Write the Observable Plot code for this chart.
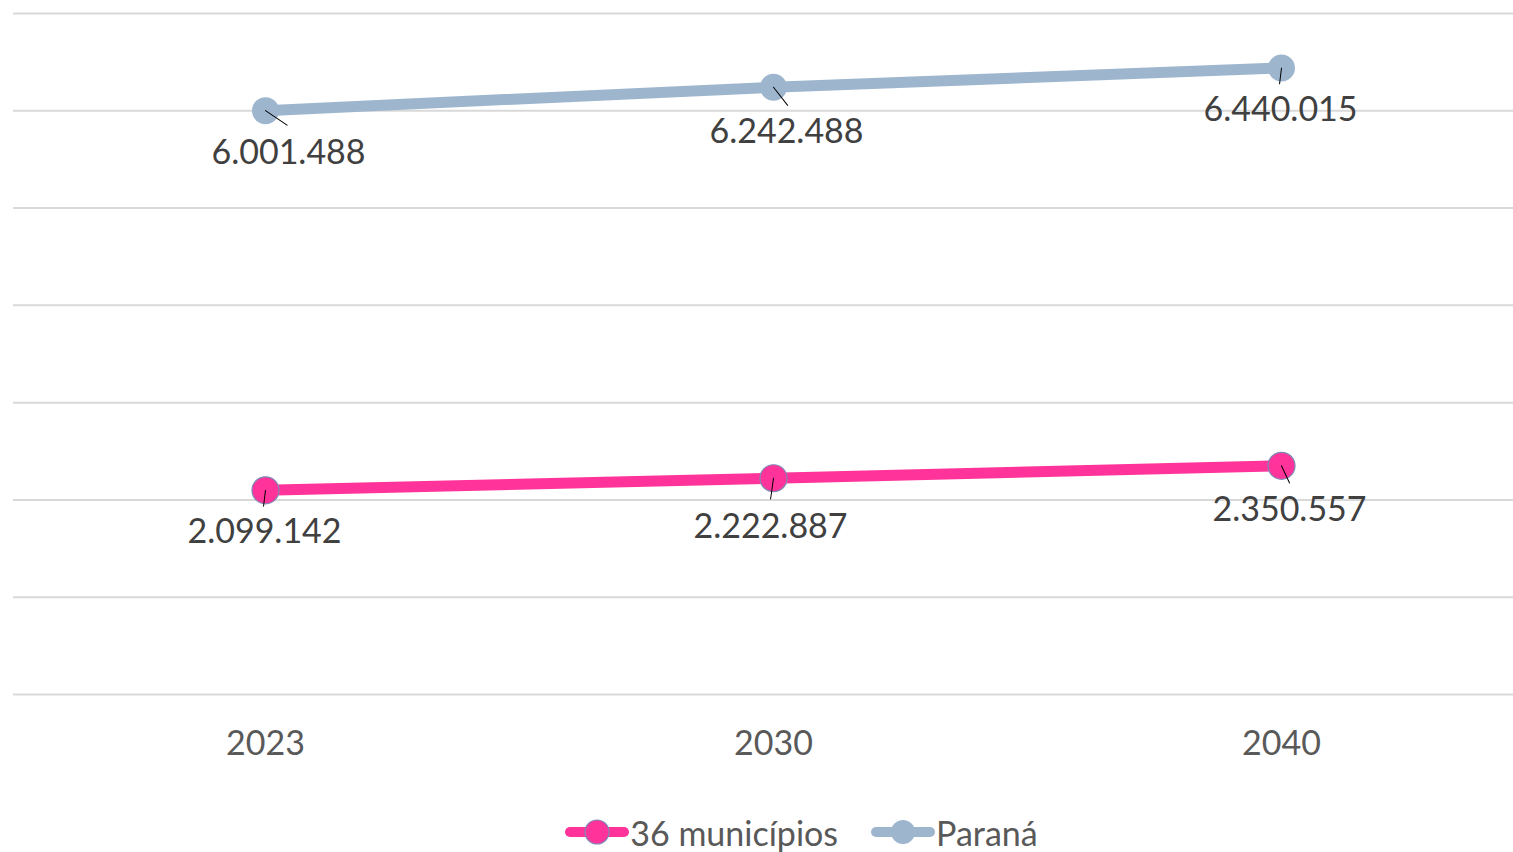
<!DOCTYPE html>
<html><head><meta charset="utf-8">
<script src="https://cdn.jsdelivr.net/npm/d3@7"></script>
<script src="https://cdn.jsdelivr.net/npm/@observablehq/plot@0.6"></script>
<style>
body{margin:0;background:#fff;font-family:Lato,"Open Sans",sans-serif}
#legend{display:flex;justify-content:center;align-items:center;gap:33px;padding-top:22px;padding-left:90px;font-size:34px;color:#595959;height:40px}
.item{display:flex;align-items:center}
</style>
</head><body><div id="chart"></div><div id="legend"></div>
<script>
const years = ["2023", "2030", "2040"];
const municipios = [2099142, 2222887, 2350557];
const parana = [6001488, 6242488, 6440015];
const seriesNames = ["36 municípios", "Paraná"];
const seriesColors = ["#FF3399", "#9DB6CE"];
const yTicks = [0, 1e6, 2e6, 3e6, 4e6, 5e6, 6e6, 7e6];

// label placement (pixel offsets from the point) and leader lines
const municipiosLabelDx = [-1, -3, 8];
const municipiosLabelDy = [42, 49, 44];
const municipiosLeaderLen = [16, 21, 19];
const municipiosLeaderRot = [187, 188, 155];
const paranaLabelDx = [23, 13, -1];
const paranaLabelDy = [42, 45, 42];
const paranaLeaderLen = [26, 23, 16];
const paranaLeaderRot = [124, 142, 187];

const fmt = d3.formatLocale({thousands: ".", decimal: ",", grouping: [3], currency: ["", ""]}).format(",d");

const rows = [];
years.forEach((y, i) => rows.push({year: y, value: municipios[i], series: seriesNames[0],
  dx: municipiosLabelDx[i], dy: municipiosLabelDy[i], len: municipiosLeaderLen[i], rot: municipiosLeaderRot[i]}));
years.forEach((y, i) => rows.push({year: y, value: parana[i], series: seriesNames[1],
  dx: paranaLabelDx[i], dy: paranaLabelDy[i], len: paranaLeaderLen[i], rot: paranaLeaderRot[i]}));

const leader = {draw(ctx, l) { ctx.moveTo(0, 0); ctx.lineTo(0, -l); }};

const chart = Plot.plot({
  width: 1513,
  height: 790,
  marginTop: 13,
  marginBottom: 96,
  marginLeft: 13,
  marginRight: 0,
  style: {fontFamily: "Lato, 'Open Sans', sans-serif", background: "#fff"},
  x: {type: "point", domain: years, range: [265, 1281], padding: 0, label: null},
  y: {domain: [0, 7e6], label: null, axis: null},
  color: {domain: seriesNames, range: seriesColors},
  marks: [
    Plot.ruleY(yTicks, {stroke: "#d9d9d9", strokeWidth: 2}),
    Plot.axisX({tickSize: 0, tickPadding: 36, fontSize: 34, color: "#595959", label: null}),
    Plot.line(rows, {x: "year", y: "value", z: "series", stroke: "series", strokeWidth: 11}),
    Plot.dot(rows.filter(d => d.series === seriesNames[0]), {x: "year", y: "value", r: 13.5, fill: seriesColors[0], stroke: "#7f88b5", strokeWidth: 1.2}),
    Plot.dot(rows.filter(d => d.series === seriesNames[1]), {x: "year", y: "value", r: 13.5, fill: seriesColors[1], stroke: "none"}),
    ...rows.map(r => Plot.vector([r], {x: "year", y: "value", length: r.len, rotate: r.rot, anchor: "start", shape: leader, stroke: "#000", strokeWidth: 1})),
    ...rows.map(r => Plot.text([r], {x: "year", y: "value", text: d => fmt(d.value), dx: r.dx, dy: r.dy, fontSize: 34, fill: "#404040"}))
  ]
});
document.getElementById("chart").appendChild(chart);

const legend = document.getElementById("legend");
seriesNames.forEach((name, i) => {
  const item = document.createElement("div");
  item.className = "item";
  item.innerHTML = `<svg width="64" height="30" style="margin-right:1px"><line x1="5" x2="59" y1="15" y2="15" stroke="${seriesColors[i]}" stroke-width="10" stroke-linecap="round"/><circle cx="32" cy="15" r="12" fill="${seriesColors[i]}" ${i === 0 ? 'stroke="#7f88b5" stroke-width="1.2"' : ''}/></svg><span>${name}</span>`;
  legend.appendChild(item);
});
</script>
</body></html>
